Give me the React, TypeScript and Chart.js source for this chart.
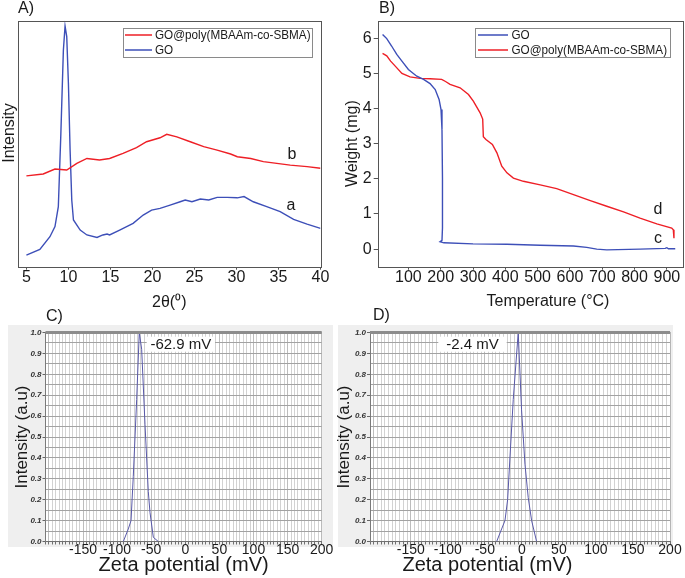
import React, { useEffect, useRef } from 'react';
import { Chart, registerables } from 'chart.js';

Chart.register(...registerables);

const FONT = "'Liberation Sans', Arial, Helvetica, sans-serif";
const W = 685;
const H = 578;

// ---------- Panel A : XRD ----------
const seriesGO = 'GO';
const seriesPoly = 'GO@poly(MBAAm-co-SBMA)';

const xrdTicks = [5, 10, 15, 20, 25, 30, 35, 40];
const xrdThetaGO = [5, 6.6, 7.8, 8.4, 8.8, 9.1, 9.4, 9.6, 9.8, 10.0, 10.2, 10.4, 10.6, 11.4, 12.2, 13.4, 14.1, 14.6, 14.9, 16.1, 17.7, 18.9, 19.9, 20.9, 22.1, 23.3, 23.9, 24.7, 25.7, 26.7, 27.7, 28.9, 30.1, 30.9, 32.0, 33.6, 35.2, 36.8, 38.4, 40];
const xrdIntensityGO = [4.7, 7.0, 12.2, 16.3, 24.4, 54, 88, 97.8, 93.5, 74.5, 47.4, 27, 19, 14.9, 12.9, 11.9, 12.9, 13.3, 12.9, 14.9, 17.6, 21, 23, 23.7, 25, 26.4, 27.1, 26.4, 27.5, 27.1, 28.2, 28.2, 28.0, 28.5, 26.4, 24.4, 22.4, 19.2, 17.3, 15.6];
const xrdThetaPoly = [5, 7.0, 8.4, 9.8, 11.0, 12.2, 13.7, 14.9, 16.5, 18.1, 19.3, 20.9, 21.7, 22.9, 24.5, 26.1, 27.7, 29.3, 30.1, 31.7, 33.2, 34.8, 36.4, 38.4, 40];
const xrdIntensityPoly = [36.9, 37.7, 39.7, 39.3, 42, 44, 43.4, 44, 46.1, 48.4, 50.8, 52.4, 53.8, 52.8, 50.8, 48.8, 47.4, 45.8, 44.7, 44, 42.7, 42, 41.3, 40.7, 40];

// ---------- Panel B : TGA ----------
const tgaTempTicks = [100, 200, 300, 400, 500, 600, 700, 800, 900];
const tgaWeightTicks = [0, 1, 2, 3, 4, 5, 6];
const tgaTempGO = [20, 33, 48, 64, 80, 100, 126, 147, 167, 183, 195, 201, 204, 205.5, 205.5, 204, 198, 210, 300, 405, 508, 611, 652, 683, 714, 817, 895, 900, 905, 926];
const tgaWeightGO = [6.11, 5.99, 5.78, 5.54, 5.35, 5.11, 4.92, 4.83, 4.71, 4.54, 4.26, 3.97, 3.4, 2.0, 0.6, 0.25, 0.21, 0.18, 0.15, 0.14, 0.11, 0.09, 0.05, 0.0, -0.02, 0.0, 0.02, 0.04, 0.01, 0.01];
const tgaTempPoly = [20, 33, 45, 60, 80, 105, 136, 167, 203, 215, 229, 260, 286, 301, 322, 330, 332, 340, 360, 374, 389, 405, 425, 456, 508, 559, 611, 663, 714, 766, 817, 869, 915, 920, 922];
const tgaWeightPoly = [5.57, 5.5, 5.35, 5.2, 5.0, 4.9, 4.86, 4.85, 4.83, 4.77, 4.69, 4.59, 4.40, 4.21, 3.88, 3.7, 3.2, 3.12, 2.98, 2.74, 2.36, 2.17, 2.02, 1.93, 1.83, 1.72, 1.55, 1.38, 1.22, 1.06, 0.88, 0.72, 0.60, 0.55, 0.31];

// ---------- Panels C, D : Zeta potential ----------
const zetaGOmV = [-90.9, -83.6, -79.6, -76.3, -71.3, -67.5, -64, -59.1, -54.3, -51.8, -46.9, -39.6];
const zetaGOIntensity = [0, 0.06, 0.1, 0.31, 0.68, 1.0, 0.92, 0.56, 0.24, 0.14, 0.02, 0];
const zetaPolymV = [-34.0, -27.3, -22.8, -19.2, -16.1, -11.6, -4.9, -0.4, 4.2, 8.6, 13.2, 19.9];
const zetaPolyIntensity = [0, 0.06, 0.1, 0.2, 0.4, 0.68, 1.0, 0.63, 0.37, 0.21, 0.1, 0];
const zetaLabelGO = '-62.9 mV';
const zetaLabelPoly = '-2.4 mV';

const RED = '#ee1f26';
const BLUE = '#3d4fb8';
const ZBLUE = '#5858a8';

const pts = (xs: number[], ys: number[]) => xs.map((x, i) => ({ x, y: ys[i] }));
const fixedTicks = (vals: number[]) => (s: any) => { s.ticks = vals.map((value) => ({ value })); };

type Txt = { t: string; x: number; y: number; size: number; align?: CanvasTextAlign; rot?: number; sx?: number; color?: string; style?: string };

function drawTexts(ctx: CanvasRenderingContext2D, list: Txt[]) {
  list.forEach((d) => {
    ctx.save();
    ctx.font = `${d.style || ''} ${d.size}px ${FONT}`;
    ctx.fillStyle = d.color || '#1a1a1a';
    ctx.textAlign = d.align || 'center';
    ctx.textBaseline = 'middle';
    ctx.translate(d.x, d.y);
    if (d.rot) ctx.rotate(d.rot);
    if (d.sx) ctx.scale(d.sx, 1);
    ctx.fillText(d.t, 0, 0);
    ctx.restore();
  });
}

type LegendBox = { x: number; y: number; w: number; h: number; rows: number[]; x1: number; x2: number; tx: number };

function drawLegend(chart: any, box: LegendBox) {
  const ctx: CanvasRenderingContext2D = chart.ctx;
  ctx.save();
  ctx.fillStyle = '#ffffff';
  ctx.fillRect(box.x, box.y, box.w, box.h);
  ctx.strokeStyle = '#8a8a8a';
  ctx.lineWidth = 1;
  ctx.strokeRect(Math.round(box.x) + 0.5, Math.round(box.y) + 0.5, Math.round(box.w), Math.round(box.h));
  chart.data.datasets.forEach((ds: any, i: number) => {
    const y = box.rows[i];
    ctx.strokeStyle = ds.borderColor;
    ctx.lineWidth = 1.5;
    ctx.beginPath();
    ctx.moveTo(box.x1, y);
    ctx.lineTo(box.x2, y);
    ctx.stroke();
    drawTexts(ctx, [{ t: ds.label, x: box.tx, y: y + 0.5, size: 13, align: 'left', sx: 0.9 }]);
  });
  ctx.restore();
}

function framePlugin(id: string) {
  return {
    id,
    afterDraw(chart: any) {
      const { left, top, right, bottom } = chart.chartArea;
      const ctx = chart.ctx;
      ctx.save();
      ctx.strokeStyle = '#555555';
      ctx.lineWidth = 1;
      ctx.strokeRect(Math.round(left) + 0.5, Math.round(top) + 0.5, Math.round(right - left), Math.round(bottom - top));
      ctx.restore();
    },
  };
}

function decorPlugin(id: string, texts: Txt[], legend?: LegendBox) {
  return {
    id,
    afterDraw(chart: any) {
      drawTexts(chart.ctx, texts);
      if (legend) drawLegend(chart, legend);
    },
  };
}

function zetaBgPlugin(id: string, bg: { x: number; y: number; w: number; h: number }, label: string, lbox: { x: number; y: number; w: number; h: number }) {
  return {
    id,
    beforeDraw(chart: any) {
      const ctx = chart.ctx;
      const { left, top, right, bottom } = chart.chartArea;
      ctx.save();
      ctx.fillStyle = '#efefef';
      ctx.fillRect(bg.x, bg.y, bg.w, bg.h);
      ctx.fillStyle = '#ffffff';
      ctx.fillRect(left, top, right - left, bottom - top);
      ctx.restore();
    },
    afterDraw(chart: any) {
      const ctx = chart.ctx;
      const { left, top, right } = chart.chartArea;
      ctx.save();
      ctx.strokeStyle = '#8c8c8c';
      ctx.lineWidth = 3;
      ctx.beginPath();
      ctx.moveTo(left, top);
      ctx.lineTo(right, top);
      ctx.stroke();
      ctx.fillStyle = '#ffffff';
      ctx.fillRect(lbox.x, lbox.y, lbox.w, lbox.h);
      ctx.restore();
      drawTexts(ctx, [{ t: label, x: lbox.x + lbox.w / 2, y: lbox.y + lbox.h / 2 + 0.5, size: 15 }]);
    },
  };
}

const baseOpts = {
  responsive: false,
  animation: false as const,
  devicePixelRatio: 1,
  events: [] as any[],
  plugins: { legend: { display: false }, tooltip: { enabled: false } },
};

function lineDs(label: string, data: any[], color: string, width: number) {
  return {
    label,
    data,
    borderColor: color,
    backgroundColor: color,
    borderWidth: width,
    pointRadius: 0,
    tension: 0,
    fill: false,
  };
}

function makeA(canvas: HTMLCanvasElement) {
  return new Chart(canvas, {
    type: 'line',
    data: {
      datasets: [
        lineDs(seriesPoly, pts(xrdThetaPoly, xrdIntensityPoly), RED, 1.4),
        lineDs(seriesGO, pts(xrdThetaGO, xrdIntensityGO), BLUE, 1.4),
      ],
    },
    options: {
      ...baseOpts,
      layout: { padding: { left: 0, top: 20.7, right: W - 320.5, bottom: H - 266.7 - 45 } },
      scales: {
        x: {
          type: 'linear',
          min: 4,
          max: 40,
          afterFit: (s: any) => { s.height = 45; },
          afterBuildTicks: fixedTicks(xrdTicks),
          ticks: { font: { family: FONT, size: 16, lineHeight: 1 }, color: '#1a1a1a', padding: 0, maxRotation: 0, autoSkip: false },
          grid: { drawOnChartArea: false, tickLength: 3, color: '#555555' },
          border: { display: false },
          title: { display: true, text: '2θ(⁰)', font: { family: FONT, size: 16 }, color: '#1a1a1a', padding: { top: 0, bottom: 0 } },
        },
        y: {
          type: 'linear',
          min: 0,
          max: 100,
          afterFit: (s: any) => { s.width = 18; },
          ticks: { display: false },
          grid: { display: false },
          border: { display: false },
        },
      },
    },
    plugins: [
      framePlugin('frameA'),
      decorPlugin('decorA', [
        { t: 'A)', x: 18, y: 9, size: 16, align: 'left' },
        { t: 'Intensity', x: 10, y: 133, size: 16, rot: -Math.PI / 2 },
        { t: 'b', x: 292, y: 155, size: 16 },
        { t: 'a', x: 291, y: 206, size: 16 },
      ], { x: 123, y: 28, w: 189, h: 29, rows: [35, 50], x1: 125, x2: 152, tx: 155 }),
    ],
  } as any);
}

function makeB(canvas: HTMLCanvasElement) {
  return new Chart(canvas, {
    type: 'line',
    data: {
      datasets: [
        lineDs(seriesGO, pts(tgaTempGO, tgaWeightGO), BLUE, 1.4),
        lineDs(seriesPoly, pts(tgaTempPoly, tgaWeightPoly), RED, 1.4),
      ],
    },
    options: {
      ...baseOpts,
      layout: { padding: { left: 340, top: 20.7, right: W - 683, bottom: H - 266.7 - 45 } },
      scales: {
        x: {
          type: 'linear',
          min: 5,
          max: 950,
          afterFit: (s: any) => { s.height = 45; },
          afterBuildTicks: fixedTicks(tgaTempTicks),
          ticks: { font: { family: FONT, size: 16, lineHeight: 1 }, color: '#1a1a1a', padding: 0, maxRotation: 0, autoSkip: false },
          grid: { drawOnChartArea: false, tickLength: 3, color: '#555555' },
          border: { display: false },
        },
        y: {
          type: 'linear',
          min: -0.5,
          max: 6.5,
          afterFit: (s: any) => { s.width = 37.7; },
          afterBuildTicks: fixedTicks(tgaWeightTicks),
          ticks: { font: { family: FONT, size: 16 }, color: '#1a1a1a', padding: 2, autoSkip: false },
          grid: { drawOnChartArea: false, tickLength: 4, color: '#555555' },
          border: { display: false },
          title: { display: true, text: 'Weight (mg)', font: { family: FONT, size: 16 }, color: '#1a1a1a', padding: { top: 3, bottom: 0 } },
        },
      },
    },
    plugins: [
      framePlugin('frameB'),
      decorPlugin('decorB', [
        { t: 'B)', x: 379, y: 9, size: 16, align: 'left' },
        { t: 'Temperature (°C)', x: 548, y: 302, size: 16 },
        { t: 'd', x: 658, y: 210, size: 16 },
        { t: 'c', x: 658, y: 239, size: 16 },
      ], { x: 475, y: 28, w: 195, h: 29, rows: [35, 50], x1: 478, x2: 508, tx: 511.5 }),
    ],
  } as any);
}

function zetaScales(yWidth: number, yTitlePad: number, showXTitle: boolean) {
  return {
    x: {
      type: 'linear',
      min: -205,
      max: 200,
      afterFit: (s: any) => { s.height = 33.5; },
      ticks: {
        stepSize: 5,
        autoSkip: false,
        maxRotation: 0,
        padding: -1,
        font: { family: FONT, size: 14, lineHeight: 1 },
        color: '#1a1a1a',
        callback: (v: number) => (Math.round(v) % 50 === 0 && v > -200 ? String(Math.round(v)) : ''),
      },
      grid: {
        color: (c: any) => (c.tick && Math.round(c.tick.value) % 50 === 0 ? '#7c7c7c' : '#a6a6a6'),
        lineWidth: 1,
        tickLength: 3,
        tickColor: '#707070',
      },
      border: { display: true, color: '#707070', dash: [1, 1] },
      title: { display: showXTitle, text: 'Zeta potential (mV)', font: { family: FONT, size: 20, lineHeight: 1 }, color: '#1a1a1a', padding: { top: 0, bottom: 0 } },
    },
    y: {
      type: 'linear',
      min: 0,
      max: 1,
      afterFit: (s: any) => { s.width = yWidth; },
      ticks: {
        stepSize: 0.05,
        autoSkip: false,
        padding: 1,
        font: { family: FONT, size: 8, style: 'italic', weight: 'bold' },
        color: '#333333',
        callback: (v: number) => { const r = Math.round(v * 100); return r % 10 === 0 ? (r / 100).toFixed(1) : ''; },
      },
      grid: {
        color: '#a2a2a2',
        lineWidth: 1,
        tickLength: 3,
        tickColor: (c: any) => (c.tick && Math.round(c.tick.value * 100) % 10 === 0 ? '#666666' : 'rgba(0,0,0,0)'),
      },
      border: { display: true, color: '#7a7a7a' },
      title: { display: true, text: 'Intensity (a.u)', font: { family: FONT, size: 17 }, color: '#1a1a1a', padding: { top: yTitlePad, bottom: 0 } },
    },
  };
}

function makeC(canvas: HTMLCanvasElement) {
  return new Chart(canvas, {
    type: 'line',
    data: { datasets: [lineDs(seriesGO, pts(zetaGOmV, zetaGOIntensity), ZBLUE, 1)] },
    options: {
      ...baseOpts,
      layout: { padding: { left: 0, top: 332.5, right: W - 321.7, bottom: 3 } },
      scales: zetaScales(45.5, 12, true),
    },
    plugins: [
      zetaBgPlugin('bgC', { x: 8, y: 325, w: 325, h: 222 }, zetaLabelGO, { x: 146.7, y: 336.7, w: 68.3, h: 15 }),
      decorPlugin('decorC', [{ t: 'C)', x: 46, y: 317, size: 16, align: 'left' }]),
    ],
  } as any);
}

function makeD(canvas: HTMLCanvasElement) {
  return new Chart(canvas, {
    type: 'line',
    data: { datasets: [lineDs(seriesPoly, pts(zetaPolymV, zetaPolyIntensity), ZBLUE, 1)] },
    options: {
      ...baseOpts,
      layout: { padding: { left: 333, top: 332.5, right: W - 670, bottom: 3 } },
      scales: zetaScales(37, 1.5, false),
    },
    plugins: [
      zetaBgPlugin('bgD', { x: 338, y: 325, w: 335, h: 222 }, zetaLabelPoly, { x: 438.3, y: 336.7, w: 68.4, h: 15 }),
      decorPlugin('decorD', [
        { t: 'D)', x: 373, y: 316, size: 16, align: 'left' },
        { t: 'Zeta potential (mV)', x: 487.5, y: 565, size: 20 },
      ]),
    ],
  } as any);
}

function ChartCanvas({ make }: { make: (c: HTMLCanvasElement) => Chart }) {
  const ref = useRef<HTMLCanvasElement>(null);
  useEffect(() => {
    const chart = make(ref.current as HTMLCanvasElement);
    return () => chart.destroy();
  }, [make]);
  return (
    <canvas
      ref={ref}
      width={W}
      height={H}
      style={{ position: 'absolute', left: 0, top: 0, width: W, height: H, display: 'block' }}
    />
  );
}

export default function App() {
  return (
    <div style={{ position: 'absolute', left: 0, top: 0, width: W, height: H, background: '#ffffff', overflow: 'hidden' }}>
      <ChartCanvas make={makeC} />
      <ChartCanvas make={makeD} />
      <ChartCanvas make={makeA} />
      <ChartCanvas make={makeB} />
    </div>
  );
}
